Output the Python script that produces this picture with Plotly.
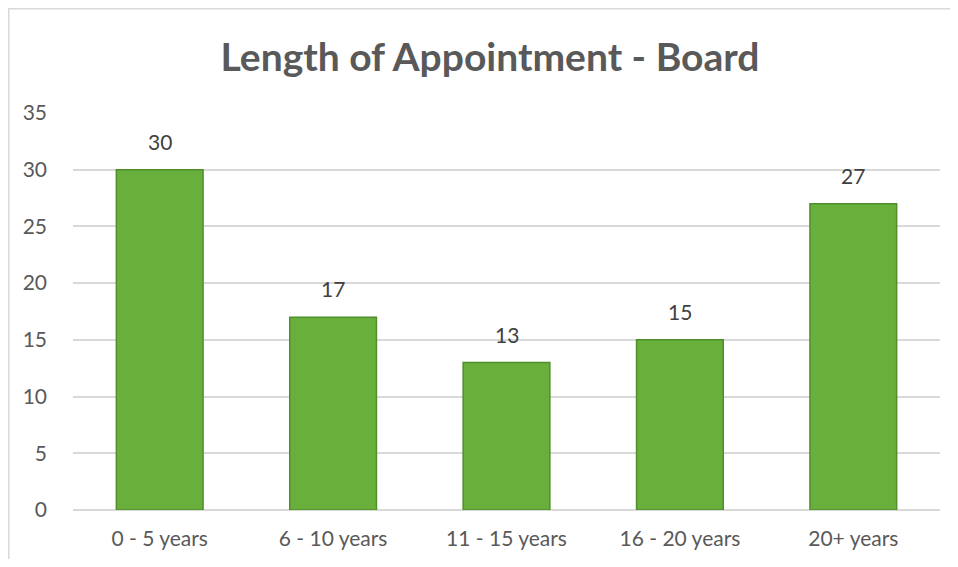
import plotly.graph_objects as go

categories = ["0 - 5 years", "6 - 10 years", "11 - 15 years", "16 - 20 years", "20+ years"]
values = [30, 17, 13, 15, 27]
y_ticks = [0, 5, 10, 15, 20, 25, 30, 35]

# page has an 8px body margin; figure sized/offset accordingly
W, H = 942, 551
ml, mr, mt, mb = 65, 10, 105, 49
pw = W - ml - mr
ph = H - mt - mb

FONT = "Lato, sans-serif"

fig = go.Figure()
fig.add_trace(go.Bar(
    x=categories, y=values,
    marker=dict(color="#68b03b", line=dict(color="#4f8f2a", width=1.5)),
    width=0.5,
    cliponaxis=False,
))

annotations = [
    dict(x=c, y=v, xref="x", yref="y", text=str(v), showarrow=False,
         yanchor="bottom", yshift=14,
         font=dict(family=FONT, size=21, color="#404040"))
    for c, v in zip(categories, values)
]

fig.update_layout(
    width=W, height=H,
    margin=dict(l=ml, r=mr, t=mt, b=mb),
    paper_bgcolor="white", plot_bgcolor="white",
    title=dict(text="<b>Length of Appointment - Board</b>", x=482 / W, xanchor="center",
               y=1 - 49 / H, yanchor="middle",
               font=dict(family=FONT, size=39, color="#595959")),
    showlegend=False,
    bargap=0.5,
    annotations=annotations,
    xaxis=dict(showgrid=False, showline=False, ticks="", ticklabelstandoff=14,
               tickfont=dict(family=FONT, size=21, color="#595959")),
    yaxis=dict(range=[0, 35], tickvals=y_ticks, showgrid=True, gridcolor="#d9d9d9",
               gridwidth=1.5, zeroline=True, zerolinecolor="#d9d9d9", zerolinewidth=1.5,
               showline=False, ticks="", ticklabelstandoff=25,
               tickfont=dict(family=FONT, size=21, color="#595959")),
    shapes=[dict(type="rect", xref="paper", yref="paper",
                 x0=(0.75 - ml) / pw, x1=(W + 20 - ml) / pw,
                 y0=-(mb + 20) / ph, y1=(H - mb - 0.75) / ph,
                 line=dict(color="#d9d9d9", width=1.5), fillcolor="rgba(0,0,0,0)",
                 layer="below")],
)

fig.write_html("out.html")
